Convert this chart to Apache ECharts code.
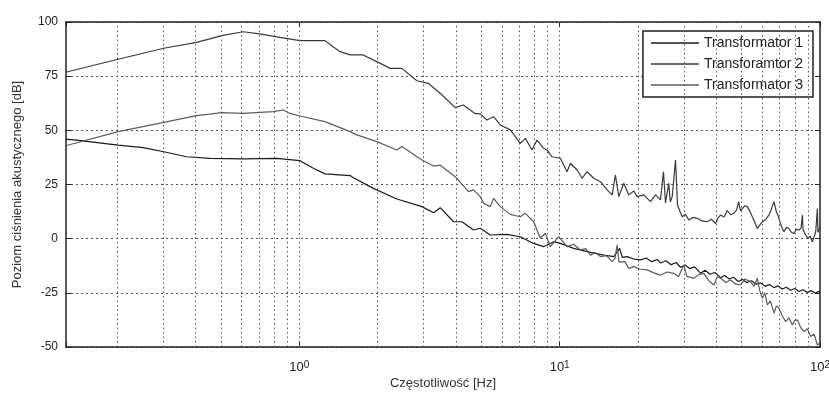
<!DOCTYPE html>
<html>
<head>
<meta charset="utf-8">
<script src="https://cdn.jsdelivr.net/npm/echarts@6/dist/echarts.min.js"></script>
<style>
body { margin: 0; background: #fff; }
#chart { width: 829px; height: 394px; }
</style>
</head>
<body>
<div id="chart"></div>
<script>
// nazwy serii (legenda)
var seriesNames = ['Transformator 1', 'Transforamtor 2', 'Transformator 3'];

// linie siatki pionowej (Hz)
var gridFreqs = [0.2, 0.3, 0.4, 0.5, 0.6, 0.7, 0.8, 0.9, 1,
	2, 3, 4, 5, 6, 7, 8, 9, 10,
	20, 30, 40, 50, 60, 70, 80, 90];

// Transformator 1 - [Hz, dB]
var t1Data = [
	[0.1267, 45.9], [0.1392, 45.5], [0.2013, 43.2], [0.2512, 42.0], [0.3017, 40.1],
	[0.3688, 37.8], [0.4533, 37.1], [0.6090, 36.8], [0.8186, 37.1], [1.006, 36.0],
	[1.132, 32.5], [1.255, 29.9], [1.567, 29.1], [1.613, 28.1], [1.926, 23.2],
	[2.369, 18.3], [2.957, 14.8], [3.277, 12.0], [3.477, 14.3], [3.911, 7.8],
	[4.213, 7.8], [4.669, 4.0], [4.955, 4.8], [5.413, 1.7], [6.278, 2.0],
	[7.062, 0.9], [7.943, -2.2], [8.680, -3.7], [9.483, -1.4], [10.06, -2.2],
	[11.32, -4.5], [13.13, -6.3], [14.77, -7.6], [16.14, -8.3], [17.0, -4.5],
	[17.4, -8.6], [18.16, -8.3], [19.3, -9.4], [20.44, -9.8], [21.5, -8.9],
	[22.6, -10.6], [23.7, -9.6], [24.39, -11.2], [25.6, -10.2], [26.8, -12.0],
	[28.0, -11.0], [29.12, -13.2], [30.3, -12.2], [31.6, -13.8], [33.0, -13.0],
	[34.78, -16.0], [36.2, -14.6], [37.8, -16.4], [39.4, -15.6], [41.51, -18.0],
	[43.0, -17.0], [44.8, -18.6], [46.6, -17.8], [48.5, -19.8], [50.4, -18.8],
	[52.4, -20.2], [54.6, -19.4], [56.8, -21.0], [59.15, -20.4], [61.5, -22.0],
	[64.0, -21.2], [66.5, -22.6], [69.0, -21.8], [71.6, -23.2], [74.3, -22.4],
	[77.1, -23.8], [80.0, -23.0], [83.0, -24.4], [86.1, -23.6], [89.3, -24.8],
	[92.6, -24.0], [96.0, -25.2], [98.86, -24.3], [100, -25.0]
];

// Transforamtor 2 - [Hz, dB]
var t2Data = [
	[0.1267, 76.8], [0.2013, 82.8], [0.3017, 87.9], [0.4030, 90.6], [0.4533, 92.2],
	[0.5029, 93.7], [0.6090, 95.5], [0.7062, 94.5], [0.8186, 93.1], [1.006, 91.4],
	[1.255, 91.4], [1.348, 88.6], [1.434, 86.3], [1.567, 84.8], [1.758, 84.8],
	[1.985, 81.7], [2.233, 78.6], [2.476, 78.6], [2.828, 72.9], [3.126, 71.7],
	[3.477, 67.1], [3.970, 60.5], [4.262, 61.7], [4.740, 57.7], [4.955, 57.6],
	[5.258, 54.8], [5.574, 56.3], [5.915, 52.5], [6.463, 50.2], [7.062, 44.0],
	[7.382, 46.3], [7.831, 40.9], [8.186, 45.5], [8.680, 41.7], [8.944, 40.9],
	[9.350, 37.8], [10.06, 37.1], [10.68, 30.9], [11.00, 34.8], [11.67, 31.7],
	[12.20, 27.9], [12.75, 30.9], [13.51, 27.9], [14.34, 26.3], [15.22, 22.5],
	[15.91, 20.2], [16.38, 29.4], [16.87, 19.4], [17.63, 25.6], [18.42, 20.2],
	[19.26, 22.0], [19.85, 19.4], [21.04, 20.2], [22.33, 17.1], [23.34, 20.2],
	[24.39, 17.9], [25.05, 30.9], [25.5, 16.5], [25.88, 17.1], [26.25, 25.6],
	[26.6, 17.0], [27.06, 19.4], [27.86, 36.3], [28.36, 15.5], [29.0, 12.5],
	[29.57, 10.1], [30.4, 11.2], [31.35, 8.6], [32.5, 9.8], [33.78, 9.4],
	[35.2, 8.2], [36.90, 7.8], [38.2, 9.0], [39.70, 7.0], [40.6, 9.6],
	[41.51, 10.9], [42.8, 10.0], [44.04, 13.0], [45.4, 11.0], [46.69, 11.7],
	[47.8, 13.2], [48.68, 17.1], [49.5, 12.8], [50.29, 12.4], [51.4, 15.2],
	[52.58, 14.8], [53.8, 12.6], [54.95, 10.1], [56.2, 7.6], [57.43, 4.7],
	[58.8, 6.4], [60.05, 7.8], [62.0, 9.0], [63.66, 10.9], [65.0, 13.6],
	[66.55, 17.1], [68.0, 12.4], [69.55, 9.4], [71.0, 5.8], [72.71, 3.2],
	[74.3, 5.2], [75.99, 4.7], [77.6, 3.0], [79.43, 2.4], [81.2, 4.4],
	[83.03, 3.9], [84.6, 5.0], [85.58, 10.9], [86.1, 4.2], [86.57, 4.7],
	[88.2, 1.6], [89.92, 0.2], [91.6, 1.2], [93.49, -1.4], [95.0, 1.0],
	[96.27, 3.2], [97.2, 2.4], [97.73, 13.9], [98.2, 3.0], [99.2, 4.0], [100, 6.0]
];

// Transformator 3 - [Hz, dB]
var t3Data = [
	[0.1267, 42.9], [0.2013, 49.4], [0.3017, 53.7], [0.4030, 56.8], [0.4533, 57.5],
	[0.5029, 58.2], [0.6090, 57.8], [0.7943, 58.6], [0.8680, 59.4], [0.9209, 57.8],
	[1.006, 56.6], [1.255, 54.0], [1.567, 49.4], [1.663, 47.9], [1.985, 44.8],
	[2.369, 40.9], [2.476, 42.5], [2.957, 36.3], [3.277, 33.5], [3.477, 33.9],
	[3.970, 28.6], [4.467, 21.7], [4.669, 22.5], [4.955, 19.4], [5.102, 16.3],
	[5.413, 14.8], [5.574, 18.6], [5.915, 14.8], [6.463, 11.2], [7.062, 10.1],
	[7.382, 11.7], [7.943, 7.8], [8.430, 0.2], [8.810, 2.5], [9.210, -3.7],
	[9.912, 0.9], [10.68, -3.7], [11.3, -2.6], [12.02, -5.2], [12.6, -4.6],
	[13.13, -7.6], [13.7, -6.4], [14.34, -8.3], [15.1, -7.8], [15.91, -10.6],
	[16.3, -9.2], [16.63, -2.9], [16.9, -10.8], [17.12, -11.4], [17.8, -10.6],
	[18.42, -13.7], [19.26, -12.9], [20.3, -14.0], [21.69, -14.4], [23.0, -15.8],
	[24.39, -16.8], [25.9, -15.4], [27.45, -16.0], [28.6, -17.6], [29.99, -12.1],
	[30.8, -17.4], [32.77, -18.3], [34.2, -16.6], [35.81, -16.0], [37.4, -19.4],
	[39.11, -21.4], [40.3, -17.6], [41.51, -18.3], [43.5, -20.2], [45.35, -19.1],
	[47.5, -21.0], [49.55, -21.4], [51.5, -18.6], [54.14, -19.9], [55.8, -22.0],
	[57.43, -18.3], [58.7, -24.0], [60.05, -27.5], [61.4, -25.0], [62.77, -30.6],
	[64.5, -28.8], [66.55, -34.4], [68.0, -31.0], [69.55, -32.1], [71.6, -35.6],
	[73.82, -38.3], [76.0, -36.6], [78.30, -39.8], [80.0, -37.8], [81.86, -37.5],
	[84.3, -41.0], [86.80, -42.9], [89.4, -41.6], [92.10, -45.2], [94.8, -44.0],
	[97.73, -49.1], [100, -48.0]
];

var lineColors = ['#1a1a1a', '#3a3a3a', '#5c5c5c'];
var font = 'Liberation Sans';

var chart = echarts.init(document.getElementById('chart'));

// etykiety osi x w postaci 10^n
function powLabel(v) {
	var e = Math.round(Math.log(v) / Math.LN10);
	if (Math.abs(v - Math.pow(10, e)) > 1e-6 * v) return '';
	return '{b|10}{s|' + e + '}';
}

function mkLine(i, data) {
	return {
		name: seriesNames[i],
		type: 'line',
		data: data,
		symbol: 'none',
		showSymbol: false,
		z: 3,
		lineStyle: {color: lineColors[i], width: 1.2},
		itemStyle: {color: lineColors[i]},
		emphasis: {disabled: true}
	};
}

var option = {
	animation: false,
	textStyle: {fontFamily: font},
	grid: {left: 66, right: 9, top: 22, bottom: 47, containLabel: false, outerBoundsMode: 'none'},
	legend: {
		data: seriesNames,
		orient: 'vertical',
		right: 16,
		top: 31,
		icon: 'rect',
		itemWidth: 48,
		itemHeight: 1.5,
		itemGap: 5,
		padding: [4, 10, 4, 8],
		borderColor: '#222',
		borderWidth: 1.5,
		backgroundColor: '#fff',
		textStyle: {fontSize: 14, color: '#222', fontFamily: font, lineHeight: 16}
	},
	xAxis: [{
		type: 'log',
		logBase: 10,
		min: 0.127,
		max: 100,
		name: 'Częstotliwość [Hz]',
		nameLocation: 'middle',
		nameGap: 30,
		nameMoveOverlap: false,
		nameTextStyle: {fontSize: 13, color: '#333', fontFamily: font},
		axisLine: {show: true, onZero: false, lineStyle: {color: '#222', width: 1.5}},
		axisTick: {show: true, inside: true, length: 5, lineStyle: {color: '#222'}},
		axisLabel: {
			margin: 13,
			color: '#222',
			formatter: powLabel,
			rich: {
				b: {fontSize: 13, fontFamily: font, color: '#222', verticalAlign: 'bottom', lineHeight: 14},
				s: {fontSize: 10, fontFamily: font, color: '#222', verticalAlign: 'top', lineHeight: 10, padding: [0, 0, 8, 0]}
			}
		},
		splitLine: {show: false}
	}, {
		type: 'log',
		logBase: 10,
		min: 0.127,
		max: 100,
		position: 'top',
		axisLine: {show: true, onZero: false, lineStyle: {color: '#222', width: 1.5}},
		axisTick: {show: true, inside: true, length: 5, lineStyle: {color: '#222'}},
		axisLabel: {show: false},
		splitLine: {show: false}
	}],
	yAxis: [{
		type: 'value',
		min: -50,
		max: 100,
		interval: 25,
		name: 'Poziom ciśnienia akustycznego [dB]',
		nameLocation: 'middle',
		nameGap: 42,
		nameMoveOverlap: false,
		nameTextStyle: {fontSize: 13, color: '#333', fontFamily: font},
		axisLine: {show: true, onZero: false, lineStyle: {color: '#222', width: 1.5}},
		axisTick: {show: true, inside: true, length: 5, lineStyle: {color: '#222'}},
		axisLabel: {fontSize: 12, color: '#222', margin: 8},
		splitLine: {show: true, lineStyle: {color: '#555', width: 1, type: [2, 3]}}
	}, {
		type: 'value',
		min: -50,
		max: 100,
		interval: 25,
		position: 'right',
		axisLine: {show: true, onZero: false, lineStyle: {color: '#222', width: 1.5}},
		axisTick: {show: true, inside: true, length: 5, lineStyle: {color: '#222'}},
		axisLabel: {show: false},
		splitLine: {show: false}
	}],
	series: [
		mkLine(0, t1Data),
		mkLine(1, t2Data),
		mkLine(2, t3Data),
		{
			// siatka pionowa (kropkowana)
			name: 'grid',
			type: 'line',
			data: [],
			z: 1,
			markLine: {
				silent: true,
				symbol: ['none', 'none'],
				label: {show: false},
				lineStyle: {color: '#555', width: 1, type: [1.5, 3]},
				data: gridFreqs.map(function(f) { return {xAxis: f}; })
			}
		}
	]
};
chart.setOption(option);
</script>
</body>
</html>
